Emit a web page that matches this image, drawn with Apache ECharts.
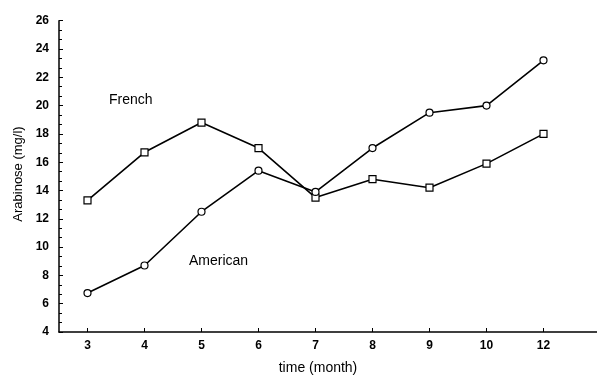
<!DOCTYPE html>
<html>
<head>
<meta charset="utf-8">
<script src="https://cdn.jsdelivr.net/npm/echarts@6/dist/echarts.min.js"></script>
<style>html,body{margin:0;padding:0;background:#fff}#c{width:597px;height:377px}</style>
</head>
<body>
<div id="c"></div>
<script>
var categories = ['3', '4', '5', '6', '7', '8', '9', '10', '12', ''];
var french = [13.3, 16.7, 18.8, 17.0, 13.5, 14.8, 14.2, 15.9, 18.0];
var american = [6.75, 8.7, 12.5, 15.4, 13.9, 17.0, 19.5, 20.0, 23.2];
var yMin = 4, yMax = 26, yStep = 2;

var font = '"Liberation Sans", Arial, sans-serif';
var chart = echarts.init(document.getElementById('c'), null, {renderer: 'canvas'});
chart.setOption({
  animation: false,
  backgroundColor: '#fff',
  grid: {left: 59, top: 20.7, width: 570, height: 311.3, containLabel: false, outerBoundsMode: 'none'},
  xAxis: {
    type: 'category',
    data: categories,
    boundaryGap: true,
    axisLine: {lineStyle: {color: '#000', width: 1.5}},
    axisTick: {show: true, inside: true, alignWithLabel: true, length: 4, lineStyle: {color: '#000'},
      interval: function (i) { return i < 9; }},
    axisLabel: {color: '#000', fontFamily: font, fontWeight: 'bold', fontSize: 12, margin: 8},
    splitLine: {show: false}
  },
  yAxis: {
    type: 'value', min: yMin, max: yMax, interval: yStep,
    axisLine: {show: true, lineStyle: {color: '#000', width: 1.5}},
    axisTick: {show: true, inside: true, length: 4, lineStyle: {color: '#000'}},
    minorTick: {show: true, splitNumber: 3, length: 3, lineStyle: {color: '#000'}},
    axisLabel: {color: '#000', fontFamily: font, fontWeight: 'bold', fontSize: 12, margin: 10},
    splitLine: {show: false}
  },
  series: [
    {
      name: 'French', type: 'line', data: french,
      symbol: 'rect', symbolSize: 7,
      lineStyle: {color: '#000', width: 1.6},
      itemStyle: {color: '#fff', borderColor: '#000', borderWidth: 1.2},
      z: 3
    },
    {
      name: 'American', type: 'line', data: american,
      symbol: 'circle', symbolSize: 7,
      lineStyle: {color: '#000', width: 1.6},
      itemStyle: {color: '#fff', borderColor: '#000', borderWidth: 1.2},
      z: 4
    }
  ],
  graphic: [
    {type: 'text', left: 109, top: 93, style: {text: 'French', font: '14px ' + font, fill: '#000'}},
    {type: 'text', left: 189, top: 254, style: {text: 'American', font: '14px ' + font, fill: '#000'}},
    {type: 'text', x: 318, y: 368, style: {text: 'time (month)', font: '14px ' + font, fill: '#000', align: 'center', verticalAlign: 'middle'}},
    {type: 'text', x: 18, y: 174, rotation: Math.PI / 2, style: {text: 'Arabinose (mg/l)', font: '13px ' + font, fill: '#000', align: 'center', verticalAlign: 'middle'}}
  ]
});
</script>
</body>
</html>
